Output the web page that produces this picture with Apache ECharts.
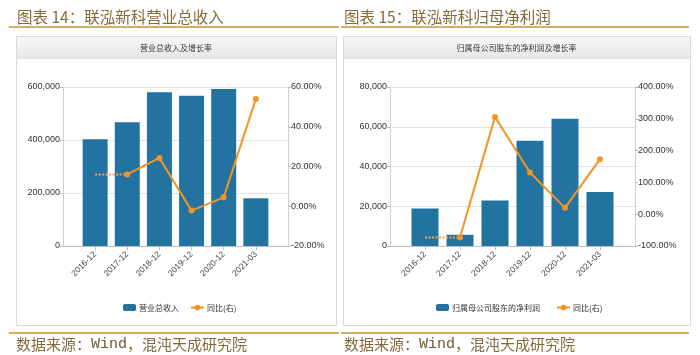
<!DOCTYPE html>
<html><head><meta charset="utf-8">
<script src="https://cdn.jsdelivr.net/npm/echarts@6/dist/echarts.min.js"></script>
<style>html,body{margin:0;padding:0;background:#fff}#c{width:700px;height:355px}</style>
</head><body><div id="c"></div>
<script>
// ---- data ----
const categories = ['2016-12', '2017-12', '2018-12', '2019-12', '2020-12', '2021-03'];
const revenue = [402600, 466800, 580000, 567200, 592500, 180000];
const revenueYoY = [null, 16.0, 24.3, -2.2, 4.5, 54.0];
const netProfit = [18850, 5650, 22850, 53000, 64000, 27150];
const profitYoY = [null, -73, 306, 131, 20, 173];

const leftTitle = '图表 14：联泓新科营业总收入';
const rightTitle = '图表 15：联泓新科归母净利润';
const leftHeader = '营业总收入及增长率';
const rightHeader = '归属母公司股东的净利润及增长率';
const leftBarName = '营业总收入';
const rightBarName = '归属母公司股东的净利润';
const yoyName = '同比(右)';

// ---- helpers ----
const pad = a => [null, ...a, null];
const padCats = ['', ...categories, ''];
const guide = a => { const g = a.map(() => null); g[0] = a[1]; g[1] = a[1]; return pad(g); };

const NARROW = "'Liberation Sans Narrow','Arial Narrow','Liberation Sans',sans-serif";
const CJK = "'Noto Sans CJK SC','Noto Sans',sans-serif";
const BLUE = '#22739f';
const ORANGE = '#f39425';
const GOLD = '#d2ae68';
const TXT = '#86693a';

function xAxis(g) {
  return {
    type: 'category', gridIndex: g, data: padCats, boundaryGap: false,
    axisLine: { lineStyle: { color: '#bdbdbd' } },
    axisTick: { interval: (i) => i > 0 && i < padCats.length - 1, length: 4, lineStyle: { color: '#bdbdbd' } },
    axisLabel: { interval: 0, rotate: 45, fontSize: 8.5, color: '#444', fontFamily: NARROW, margin: 7 },
    splitLine: { show: false }
  };
}
function yAxis(g, pos, min, max, interval, fmt, split) {
  return {
    type: 'value', gridIndex: g, position: pos, min, max, interval,
    axisLine: { show: true, lineStyle: { color: '#cfcfcf' } },
    axisTick: { show: true, length: 3, lineStyle: { color: '#bdbdbd' } },
    axisLabel: { fontSize: 9, color: '#333', fontFamily: NARROW, margin: 3, formatter: fmt },
    splitLine: { show: split, lineStyle: { color: '#e2e2e2' } }
  };
}
const commas = v => Number(v).toLocaleString('en-US');
const pct = v => Number(v).toFixed(2) + '%';

function panel(x, w, header) {
  return [
    { type: 'rect', shape: { x: x + 0.5, y: 36.5, width: w, height: 289 }, style: { fill: '#fff', stroke: '#dadada', lineWidth: 1 }, z: -10 },
    { type: 'rect', shape: { x: x + 1, y: 37, width: w - 1, height: 21 },
      style: { fill: new echarts.graphic.LinearGradient(0, 0, 0, 1, [{ offset: 0, color: '#f8f8f8' }, { offset: 1, color: '#e7e7e7' }]) }, z: -9 },
    { type: 'line', shape: { x1: x + 1, y1: 58.5, x2: x + w, y2: 58.5 }, style: { stroke: '#e0e0e0', lineWidth: 1 }, z: -9 },
    { type: 'text', x: x + w / 2, y: 47.5, style: { text: header, font: '8px ' + CJK, fill: '#333', align: 'center', verticalAlign: 'middle' }, z: 5 }
  ];
}

const chart = echarts.init(document.getElementById('c'));
chart.setOption({
  animation: false,
  backgroundColor: '#fff',
  grid: [
    { left: 63, width: 225, top: 87, height: 159 },
    { left: 390, width: 245, top: 87, height: 159 }
  ],
  xAxis: [xAxis(0), xAxis(1)],
  yAxis: [
    yAxis(0, 'left', 0, 600000, 200000, commas, true),
    yAxis(0, 'right', -20, 60, 20, pct, false),
    yAxis(1, 'left', 0, 80000, 20000, commas, true),
    yAxis(1, 'right', -100, 400, 100, pct, false)
  ],
  legend: [
    { left: 123, top: 303.5, padding: 0, itemWidth: 13, itemHeight: 7, itemGap: 11, data: [leftBarName, yoyName],
      textStyle: { fontSize: 8, color: '#333', fontFamily: CJK, padding: [0, 0, 0, -2] } },
    { left: 436, top: 303.5, padding: 0, itemWidth: 13, itemHeight: 7, itemGap: 16, data: [rightBarName, yoyName],
      textStyle: { fontSize: 8, color: '#333', fontFamily: CJK, padding: [0, 0, 0, -2] } }
  ],
  series: [
    { name: leftBarName, type: 'bar', xAxisIndex: 0, yAxisIndex: 0, data: pad(revenue), barWidth: 25, itemStyle: { color: BLUE } },
    { name: 'guideL', type: 'line', xAxisIndex: 0, yAxisIndex: 1, data: guide(revenueYoY), showSymbol: false, symbol: 'none',
      lineStyle: { color: '#f0a256', width: 2, type: [2, 1.5] }, z: 3 },
    { name: yoyName, type: 'line', xAxisIndex: 0, yAxisIndex: 1, data: pad(revenueYoY), symbol: 'circle', symbolSize: 6,
      lineStyle: { color: ORANGE, width: 2 }, itemStyle: { color: ORANGE }, z: 4 },
    { name: rightBarName, type: 'bar', xAxisIndex: 1, yAxisIndex: 2, data: pad(netProfit), barWidth: 27, itemStyle: { color: BLUE } },
    { name: 'guideR', type: 'line', xAxisIndex: 1, yAxisIndex: 3, data: guide(profitYoY), showSymbol: false, symbol: 'none',
      lineStyle: { color: '#f0a256', width: 2, type: [2, 1.5] }, z: 3 },
    { name: yoyName, type: 'line', xAxisIndex: 1, yAxisIndex: 3, data: pad(profitYoY), symbol: 'circle', symbolSize: 6,
      lineStyle: { color: ORANGE, width: 2 }, itemStyle: { color: ORANGE }, z: 4 }
  ],
  graphic: [
    ...panel(16, 320, leftHeader),
    ...panel(343, 347, rightHeader),
    { type: 'text', x: 17, y: 17, style: { text: leftTitle, font: '15.5px ' + CJK, fill: TXT, verticalAlign: 'middle' } },
    { type: 'text', x: 344, y: 17, style: { text: rightTitle, font: '15.5px ' + CJK, fill: TXT, verticalAlign: 'middle' } },
    { type: 'rect', shape: { x: 9, y: 26, width: 330, height: 2 }, style: { fill: GOLD } },
    { type: 'rect', shape: { x: 341, y: 26, width: 348, height: 2 }, style: { fill: GOLD } },
    { type: 'rect', shape: { x: 9, y: 332, width: 330, height: 2 }, style: { fill: GOLD } },
    { type: 'rect', shape: { x: 341, y: 332, width: 348, height: 2 }, style: { fill: GOLD } },
    { type: 'text', x: 16, y: 344, style: { text: '{c|数据来源：}{m|Wind}{c|，混沌天成研究院}', verticalAlign: 'middle',
      rich: { c: { font: '15px ' + CJK, fill: TXT }, m: { font: "15px 'Liberation Mono','DejaVu Sans Mono',monospace", fill: '#6d5a35' } } } },
    { type: 'text', x: 344, y: 344, style: { text: '{c|数据来源：}{m|Wind}{c|，混沌天成研究院}', verticalAlign: 'middle',
      rich: { c: { font: '15px ' + CJK, fill: TXT }, m: { font: "15px 'Liberation Mono','DejaVu Sans Mono',monospace", fill: '#6d5a35' } } } }
  ]
});
</script>
</body></html>
